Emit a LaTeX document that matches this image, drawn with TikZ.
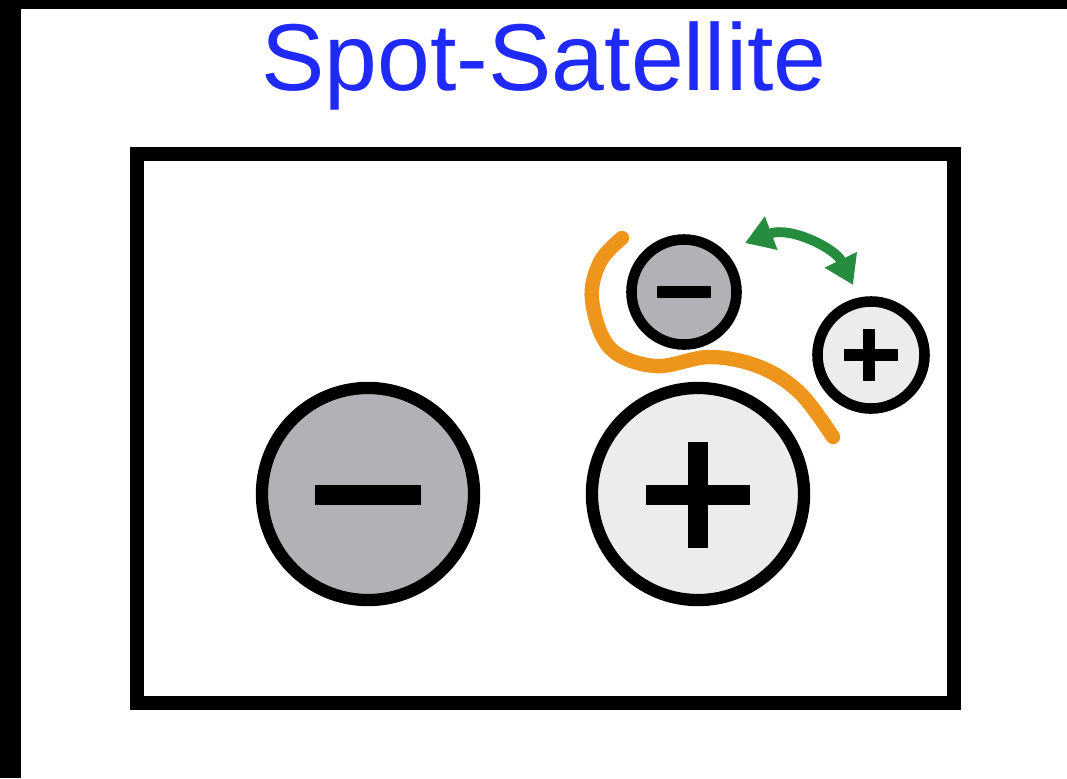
\documentclass[tikz,border=0pt]{standalone}
\usepackage{fontspec}
\setmainfont{Liberation Sans}
\usetikzlibrary{arrows.meta}
\definecolor{titleblue}{RGB}{32,42,248}
\definecolor{ionminus}{RGB}{178,178,182}
\definecolor{ionplus}{RGB}{236,236,236}
\definecolor{shellorange}{RGB}{238,150,28}
\definecolor{hopgreen}{RGB}{38,140,62}

\begin{document}
\begin{tikzpicture}[x=0.01cm,y=-0.01cm]
		\tikzstyle{every node}+=[inner sep=0pt,outer sep=0pt]
		\tikzstyle{ion}=[circle,draw=black,line width=3.5pt]
		\tikzstyle{sign}=[black,line width=5.7pt]
		\tikzstyle{smallsign}=[black,line width=3.5pt]
		\useasboundingbox (0,0) rectangle (1067,778);
		\fill [black] (0,0) rectangle (1067,778);
		\fill [white] (21,9) rectangle (1067,778);
		\node [anchor=base,text=titleblue,font=\fontsize{27}{30}\selectfont] (title) at (544,90) {Spot-Satellite};
		\draw [black,line width=3.8pt] (137,154) rectangle (954,703);
		% solvation shell between the pair
		\draw [shellorange,line width=4.1pt,line cap=round] plot [smooth,tension=0.6] coordinates
			{(622,238) (600,262) (592,300) (610,348) (655,366) (710,357) (760,367) (800,393) (833,437)};
		% contact pair
		\node [ion,fill=ionminus,minimum size=2.12cm] (bigminus) at (368,494) {};
		\node [ion,fill=ionplus,minimum size=2.12cm] (bigplus) at (698,494) {};
		\draw [sign] (bigminus.center) ++(-53,1) -- ++(106,0);
		\draw [sign] (bigplus.center) ++(-52,1) -- ++(104,0);
		\draw [sign] (bigplus.center) ++(0,-52) -- ++(0,106);
		% satellite pair
		\node [ion,fill=ionminus,line width=3pt,minimum size=1.05cm] (smallminus) at (684,292) {};
		\node [ion,fill=ionplus,line width=3pt,minimum size=1.07cm] (smallplus) at (871,355) {};
		\draw [smallsign] (smallminus.center) ++(-27,0) -- ++(54,0);
		\draw [smallsign] (smallplus.center) ++(-27,0) -- ++(54,0);
		\draw [smallsign] (smallplus.center) ++(-2,-26) -- ++(0,52);
		\coordinate (hopa) at (745,243);
		\coordinate (hopb) at (853,285);
		\draw [hopgreen,line width=2.8pt,{Triangle[length=0.28cm,width=0.34cm]}-{Triangle[length=0.28cm,width=0.34cm]}]
			(hopa) .. controls (790,226) and (835,248) .. (hopb);
	\end{tikzpicture}
\end{document}
